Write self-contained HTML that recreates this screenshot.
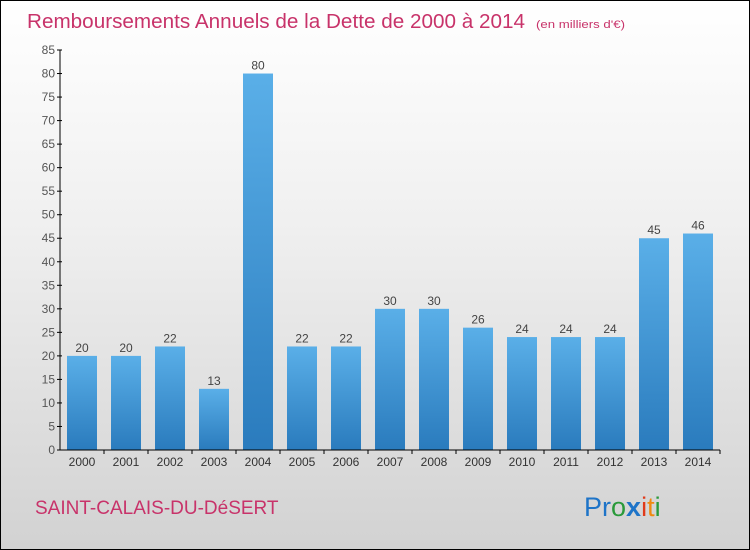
<!DOCTYPE html>
<html><head><meta charset="utf-8"><style>
body{margin:0;width:750px;height:550px;overflow:hidden;font-family:"Liberation Sans",sans-serif}
#bg{position:absolute;left:0;top:0;width:748px;height:548px;border:1px solid #000;background:linear-gradient(#ffffff,#f0f0f0 40%,#d2d2d2)}
</style></head><body>
<div id="bg"></div>
<svg id="c" width="750" height="550" style="position:absolute;left:0;top:0">
<defs><linearGradient id="g" x1="0" y1="0" x2="0" y2="1"><stop offset="0" stop-color="#5aafe8"/><stop offset="1" stop-color="#2a7bbd"/></linearGradient></defs>
<text x="27" y="28" font-size="20" fill="#c8336a" textLength="498" lengthAdjust="spacingAndGlyphs">Remboursements Annuels de la Dette de 2000 à 2014</text>
<text x="536" y="28" font-size="11" fill="#c8336a" textLength="89" lengthAdjust="spacingAndGlyphs">(en milliers d'€)</text>
<text x="35" y="514" font-size="19" fill="#c8336a">SAINT-CALAIS-DU-DéSERT</text>
<text x="584" y="516" font-size="27"><tspan fill="#1e74c8">Pr</tspan><tspan fill="#2a9a3a">o</tspan><tspan fill="#1e74c8" font-weight="bold">x</tspan><tspan fill="#e03a1a">i</tspan><tspan fill="#f08a10">t</tspan><tspan fill="#2a9a3a">i</tspan></text>
<g id="plot"></g>
</svg>
<script>
const categories=["2000","2001","2002","2003","2004","2005","2006","2007","2008","2009","2010","2011","2012","2013","2014"];
const values=[20,20,22,13,80,22,22,30,30,26,24,24,24,45,46];
const yTicks=[0,5,10,15,20,25,30,35,40,45,50,55,60,65,70,75,80,85];
const NS="http://www.w3.org/2000/svg";
const g=document.getElementById('plot');
function y(v){return 450-v*400/85;}
function x(i){return 82+i*44;}
function mk(t,a){const e=document.createElementNS(NS,t);for(const k in a)e.setAttribute(k,a[k]);g.appendChild(e);return e;}
yTicks.forEach(v=>{
 const l=mk('line',{x1:57,x2:62,y1:y(v),y2:y(v),stroke:'#000'});
 
 
 const t=mk('text',{x:55,y:y(v)+4,'text-anchor':'end','font-size':12,fill:'#555'});
 t.textContent=v;
 
 
});
values.forEach((v,i)=>{
 const r=mk('rect',{x:x(i)-15,y:y(v),width:30,height:450-y(v),fill:'url(#g)'});
 
 
 const t=mk('text',{x:x(i),y:y(v)-4,'text-anchor':'middle','font-size':12,fill:'#444'});
 t.textContent=v;
 
 
 const c=mk('text',{x:x(i),y:466,'text-anchor':'middle','font-size':12,fill:'#333'});
 c.textContent=categories[i];
 
 
 const tk=mk('line',{x1:x(i)+22,x2:x(i)+22,y1:450,y2:454,stroke:'#000'});
 
 
});
const ya=mk('line',{x1:60,x2:60,y1:y(85),y2:450,stroke:'#000'});


const xa=mk('line',{x1:60,x2:720,y1:450,y2:450,stroke:'#000'});


</script>
</body></html>
